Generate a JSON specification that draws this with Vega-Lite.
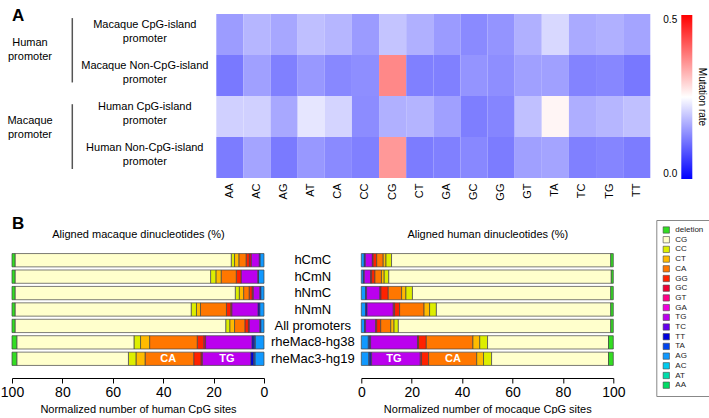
{
  "$schema": "https://vega.github.io/schema/vega-lite/v6.json",
  "padding": {"top": 7, "left": 0, "right": 0, "bottom": 0},
  "config": {"font": "Liberation Sans", "view": {"stroke": null}, "axis": {"labelColor": "#000", "titleColor": "#000", "labelFont": "Liberation Sans", "titleFont": "Liberation Sans"}, "legend": {"labelFont": "Liberation Sans", "titleFont": "Liberation Sans"}, "title": {"font": "Liberation Sans", "color": "#000"}},
  "datasets": {
    "grp": [
      {"g": "Human|promoter", "a": 0.1, "b": 1.67, "m": 0.7},
      {"g": "Macaque|promoter", "a": 2.2, "b": 3.78, "m": 2.6}
    ],
    "heat": [
      {"r": "Macaque CpG-island|promoter", "d": "AA", "v": 0.153}, {"r": "Macaque CpG-island|promoter", "d": "AC", "v": 0.178}, {"r": "Macaque CpG-island|promoter", "d": "AG", "v": 0.164}, {"r": "Macaque CpG-island|promoter", "d": "AT", "v": 0.187},
      {"r": "Macaque CpG-island|promoter", "d": "CA", "v": 0.178}, {"r": "Macaque CpG-island|promoter", "d": "CC", "v": 0.152}, {"r": "Macaque CpG-island|promoter", "d": "CG", "v": 0.192}, {"r": "Macaque CpG-island|promoter", "d": "CT", "v": 0.173},
      {"r": "Macaque CpG-island|promoter", "d": "GA", "v": 0.152}, {"r": "Macaque CpG-island|promoter", "d": "GC", "v": 0.135}, {"r": "Macaque CpG-island|promoter", "d": "GG", "v": 0.145}, {"r": "Macaque CpG-island|promoter", "d": "GT", "v": 0.173},
      {"r": "Macaque CpG-island|promoter", "d": "TA", "v": 0.212}, {"r": "Macaque CpG-island|promoter", "d": "TC", "v": 0.167}, {"r": "Macaque CpG-island|promoter", "d": "TG", "v": 0.173}, {"r": "Macaque CpG-island|promoter", "d": "TT", "v": 0.161},
      {"r": "Macaque Non-CpG-island|promoter", "d": "AA", "v": 0.119}, {"r": "Macaque Non-CpG-island|promoter", "d": "AC", "v": 0.157}, {"r": "Macaque Non-CpG-island|promoter", "d": "AG", "v": 0.125}, {"r": "Macaque Non-CpG-island|promoter", "d": "AT", "v": 0.149},
      {"r": "Macaque Non-CpG-island|promoter", "d": "CA", "v": 0.133}, {"r": "Macaque Non-CpG-island|promoter", "d": "CC", "v": 0.139}, {"r": "Macaque Non-CpG-island|promoter", "d": "CG", "v": 0.367}, {"r": "Macaque Non-CpG-island|promoter", "d": "CT", "v": 0.125},
      {"r": "Macaque Non-CpG-island|promoter", "d": "GA", "v": 0.125}, {"r": "Macaque Non-CpG-island|promoter", "d": "GC", "v": 0.145}, {"r": "Macaque Non-CpG-island|promoter", "d": "GG", "v": 0.139}, {"r": "Macaque Non-CpG-island|promoter", "d": "GT", "v": 0.157},
      {"r": "Macaque Non-CpG-island|promoter", "d": "TA", "v": 0.157}, {"r": "Macaque Non-CpG-island|promoter", "d": "TC", "v": 0.128}, {"r": "Macaque Non-CpG-island|promoter", "d": "TG", "v": 0.132}, {"r": "Macaque Non-CpG-island|promoter", "d": "TT", "v": 0.118},
      {"r": "Human CpG-island|promoter", "d": "AA", "v": 0.204}, {"r": "Human CpG-island|promoter", "d": "AC", "v": 0.204}, {"r": "Human CpG-island|promoter", "d": "AG", "v": 0.165}, {"r": "Human CpG-island|promoter", "d": "AT", "v": 0.225},
      {"r": "Human CpG-island|promoter", "d": "CA", "v": 0.208}, {"r": "Human CpG-island|promoter", "d": "CC", "v": 0.137}, {"r": "Human CpG-island|promoter", "d": "CG", "v": 0.173}, {"r": "Human CpG-island|promoter", "d": "CT", "v": 0.176},
      {"r": "Human CpG-island|promoter", "d": "GA", "v": 0.157}, {"r": "Human CpG-island|promoter", "d": "GC", "v": 0.124}, {"r": "Human CpG-island|promoter", "d": "GG", "v": 0.13}, {"r": "Human CpG-island|promoter", "d": "GT", "v": 0.188},
      {"r": "Human CpG-island|promoter", "d": "TA", "v": 0.26}, {"r": "Human CpG-island|promoter", "d": "TC", "v": 0.171}, {"r": "Human CpG-island|promoter", "d": "TG", "v": 0.178}, {"r": "Human CpG-island|promoter", "d": "TT", "v": 0.188},
      {"r": "Human Non-CpG-island|promoter", "d": "AA", "v": 0.122}, {"r": "Human Non-CpG-island|promoter", "d": "AC", "v": 0.161}, {"r": "Human Non-CpG-island|promoter", "d": "AG", "v": 0.12}, {"r": "Human Non-CpG-island|promoter", "d": "AT", "v": 0.149},
      {"r": "Human Non-CpG-island|promoter", "d": "CA", "v": 0.135}, {"r": "Human Non-CpG-island|promoter", "d": "CC", "v": 0.125}, {"r": "Human Non-CpG-island|promoter", "d": "CG", "v": 0.351}, {"r": "Human Non-CpG-island|promoter", "d": "CT", "v": 0.122},
      {"r": "Human Non-CpG-island|promoter", "d": "GA", "v": 0.125}, {"r": "Human Non-CpG-island|promoter", "d": "GC", "v": 0.133}, {"r": "Human Non-CpG-island|promoter", "d": "GG", "v": 0.122}, {"r": "Human Non-CpG-island|promoter", "d": "GT", "v": 0.157},
      {"r": "Human Non-CpG-island|promoter", "d": "TA", "v": 0.161}, {"r": "Human Non-CpG-island|promoter", "d": "TC", "v": 0.125}, {"r": "Human Non-CpG-island|promoter", "d": "TG", "v": 0.13}, {"r": "Human Non-CpG-island|promoter", "d": "TT", "v": 0.122}
    ],
    "left": [
      {"row": "hCmC", "d": "AG", "v": 1.6}, {"row": "hCmC", "d": "TT", "v": 0.3}, {"row": "hCmC", "d": "TG", "v": 3.2}, {"row": "hCmC", "d": "GC", "v": 0.7}, {"row": "hCmC", "d": "GG", "v": 1.3}, {"row": "hCmC", "d": "CA", "v": 2.9}, {"row": "hCmC", "d": "CT", "v": 1.7}, {"row": "hCmC", "d": "CC", "v": 1.3}, {"row": "hCmC", "d": "CG", "v": 85.8}, {"row": "hCmC", "d": "deletion", "v": 1.2},
      {"row": "hCmN", "d": "AG", "v": 2.2}, {"row": "hCmN", "d": "TT", "v": 0.3}, {"row": "hCmN", "d": "TG", "v": 6.6}, {"row": "hCmN", "d": "GG", "v": 1.9}, {"row": "hCmN", "d": "CA", "v": 6.0}, {"row": "hCmN", "d": "CT", "v": 2.1}, {"row": "hCmN", "d": "CC", "v": 2.1}, {"row": "hCmN", "d": "CG", "v": 77.6}, {"row": "hCmN", "d": "deletion", "v": 1.2},
      {"row": "hNmC", "d": "AG", "v": 1.3}, {"row": "hNmC", "d": "TT", "v": 0.4}, {"row": "hNmC", "d": "TG", "v": 2.6}, {"row": "hNmC", "d": "GC", "v": 0.4}, {"row": "hNmC", "d": "GG", "v": 1.2}, {"row": "hNmC", "d": "CA", "v": 2.2}, {"row": "hNmC", "d": "CT", "v": 1.7}, {"row": "hNmC", "d": "CC", "v": 1.6}, {"row": "hNmC", "d": "CG", "v": 87.4}, {"row": "hNmC", "d": "deletion", "v": 1.2},
      {"row": "hNmN", "d": "AG", "v": 1.7}, {"row": "hNmN", "d": "TT", "v": 0.7}, {"row": "hNmN", "d": "TG", "v": 10.4}, {"row": "hNmN", "d": "GC", "v": 0.4}, {"row": "hNmN", "d": "GG", "v": 1.7}, {"row": "hNmN", "d": "CA", "v": 10.3}, {"row": "hNmN", "d": "CT", "v": 1.6}, {"row": "hNmN", "d": "CC", "v": 2.1}, {"row": "hNmN", "d": "CG", "v": 69.9}, {"row": "hNmN", "d": "deletion", "v": 1.2},
      {"row": "All promoters", "d": "AG", "v": 1.3}, {"row": "All promoters", "d": "TT", "v": 0.4}, {"row": "All promoters", "d": "TG", "v": 4.2}, {"row": "All promoters", "d": "GC", "v": 0.3}, {"row": "All promoters", "d": "GG", "v": 1.4}, {"row": "All promoters", "d": "CA", "v": 4.1}, {"row": "All promoters", "d": "CT", "v": 1.9}, {"row": "All promoters", "d": "CC", "v": 1.6}, {"row": "All promoters", "d": "CG", "v": 83.6}, {"row": "All promoters", "d": "deletion", "v": 1.2},
      {"row": "rheMac8-hg38", "d": "AG", "v": 3.5}, {"row": "rheMac8-hg38", "d": "TA", "v": 0.5}, {"row": "rheMac8-hg38", "d": "TT", "v": 0.8}, {"row": "rheMac8-hg38", "d": "TG", "v": 18.4}, {"row": "rheMac8-hg38", "d": "GC", "v": 0.7}, {"row": "rheMac8-hg38", "d": "GG", "v": 2.6}, {"row": "rheMac8-hg38", "d": "CA", "v": 18.9}, {"row": "rheMac8-hg38", "d": "CT", "v": 3.6}, {"row": "rheMac8-hg38", "d": "CC", "v": 2.6}, {"row": "rheMac8-hg38", "d": "CG", "v": 46.5}, {"row": "rheMac8-hg38", "d": "deletion", "v": 1.9},
      {"row": "rheMac3-hg19", "d": "AG", "v": 3.6}, {"row": "rheMac3-hg19", "d": "TA", "v": 0.5}, {"row": "rheMac3-hg19", "d": "TT", "v": 1.2}, {"row": "rheMac3-hg19", "d": "TG", "v": 19.2}, {"row": "rheMac3-hg19", "d": "GC", "v": 0.5}, {"row": "rheMac3-hg19", "d": "GG", "v": 2.9}, {"row": "rheMac3-hg19", "d": "CA", "v": 19.3}, {"row": "rheMac3-hg19", "d": "CT", "v": 3.6}, {"row": "rheMac3-hg19", "d": "CC", "v": 3.0}, {"row": "rheMac3-hg19", "d": "CG", "v": 44.3}, {"row": "rheMac3-hg19", "d": "deletion", "v": 1.9}
    ],
    "right": [
      {"row": "hCmC", "d": "AG", "v": 1.2}, {"row": "hCmC", "d": "TT", "v": 0.4}, {"row": "hCmC", "d": "TG", "v": 2.8}, {"row": "hCmC", "d": "GC", "v": 0.3}, {"row": "hCmC", "d": "GG", "v": 1.4}, {"row": "hCmC", "d": "CA", "v": 2.6}, {"row": "hCmC", "d": "CT", "v": 1.1}, {"row": "hCmC", "d": "CC", "v": 2.2}, {"row": "hCmC", "d": "CG", "v": 87.0}, {"row": "hCmC", "d": "deletion", "v": 1.0},
      {"row": "hCmN", "d": "AG", "v": 0.8}, {"row": "hCmN", "d": "TT", "v": 0.4}, {"row": "hCmN", "d": "TG", "v": 2.5}, {"row": "hCmN", "d": "GC", "v": 0.4}, {"row": "hCmN", "d": "GG", "v": 1.3}, {"row": "hCmN", "d": "CA", "v": 2.6}, {"row": "hCmN", "d": "CT", "v": 1.1}, {"row": "hCmN", "d": "CC", "v": 1.8}, {"row": "hCmN", "d": "CG", "v": 88.3}, {"row": "hCmN", "d": "deletion", "v": 0.8},
      {"row": "hNmC", "d": "AG", "v": 1.7}, {"row": "hNmC", "d": "TT", "v": 0.4}, {"row": "hNmC", "d": "TG", "v": 5.3}, {"row": "hNmC", "d": "GC", "v": 0.4}, {"row": "hNmC", "d": "GG", "v": 2.9}, {"row": "hNmC", "d": "CA", "v": 5.3}, {"row": "hNmC", "d": "CT", "v": 1.7}, {"row": "hNmC", "d": "CC", "v": 2.6}, {"row": "hNmC", "d": "CG", "v": 78.7}, {"row": "hNmC", "d": "deletion", "v": 1.0},
      {"row": "hNmN", "d": "AG", "v": 1.7}, {"row": "hNmN", "d": "TT", "v": 0.6}, {"row": "hNmN", "d": "TG", "v": 10.4}, {"row": "hNmN", "d": "GC", "v": 0.5}, {"row": "hNmN", "d": "GG", "v": 2.0}, {"row": "hNmN", "d": "CA", "v": 9.7}, {"row": "hNmN", "d": "CT", "v": 2.2}, {"row": "hNmN", "d": "CC", "v": 2.7}, {"row": "hNmN", "d": "CG", "v": 69.2}, {"row": "hNmN", "d": "deletion", "v": 1.0},
      {"row": "All promoters", "d": "AG", "v": 1.3}, {"row": "All promoters", "d": "TT", "v": 0.4}, {"row": "All promoters", "d": "TG", "v": 4.0}, {"row": "All promoters", "d": "GC", "v": 0.4}, {"row": "All promoters", "d": "GG", "v": 1.6}, {"row": "All promoters", "d": "CA", "v": 4.0}, {"row": "All promoters", "d": "CT", "v": 1.3}, {"row": "All promoters", "d": "CC", "v": 1.7}, {"row": "All promoters", "d": "CG", "v": 84.3}, {"row": "All promoters", "d": "deletion", "v": 1.0},
      {"row": "rheMac8-hg38", "d": "AG", "v": 2.8}, {"row": "rheMac8-hg38", "d": "TA", "v": 0.5}, {"row": "rheMac8-hg38", "d": "TT", "v": 0.4}, {"row": "rheMac8-hg38", "d": "TG", "v": 18.6}, {"row": "rheMac8-hg38", "d": "GC", "v": 0.4}, {"row": "rheMac8-hg38", "d": "GG", "v": 3.1}, {"row": "rheMac8-hg38", "d": "CA", "v": 18.5}, {"row": "rheMac8-hg38", "d": "CT", "v": 2.7}, {"row": "rheMac8-hg38", "d": "CC", "v": 3.1}, {"row": "rheMac8-hg38", "d": "CG", "v": 48.0}, {"row": "rheMac8-hg38", "d": "deletion", "v": 1.9},
      {"row": "rheMac3-hg19", "d": "AG", "v": 3.0}, {"row": "rheMac3-hg19", "d": "TA", "v": 0.5}, {"row": "rheMac3-hg19", "d": "TT", "v": 0.6}, {"row": "rheMac3-hg19", "d": "TG", "v": 19.3}, {"row": "rheMac3-hg19", "d": "GC", "v": 0.5}, {"row": "rheMac3-hg19", "d": "GG", "v": 2.8}, {"row": "rheMac3-hg19", "d": "CA", "v": 19.1}, {"row": "rheMac3-hg19", "d": "CT", "v": 2.7}, {"row": "rheMac3-hg19", "d": "CC", "v": 3.2}, {"row": "rheMac3-hg19", "d": "CG", "v": 46.4}, {"row": "rheMac3-hg19", "d": "deletion", "v": 1.9}
    ],
    "labL": [{"row": "rheMac3-hg19", "lab": "CA", "at": 38.0}, {"row": "rheMac3-hg19", "lab": "TG", "at": 14.7}],
    "labR": [{"row": "rheMac3-hg19", "lab": "TG", "at": 12.9}, {"row": "rheMac3-hg19", "lab": "CA", "at": 36.4}]
  },
  "bounds": "flush",
  "spacing": 238,
  "resolve": {"scale": {"color": "independent", "fill": "independent"}},
  "vconcat": [
    {
      "bounds": "flush",
      "spacing": 104.3,
      "resolve": {"scale": {"fill": "independent"}},
      "title": {"text": "A", "anchor": "start", "frame": "group", "fontSize": 17, "fontWeight": "bold", "baseline": "alphabetic", "offset": -14, "dy": 10},
      "hconcat": [
        {
          "width": 100,
          "height": 164,
          "layer": [
            {
              "data": {"name": "grp"},
              "mark": {"type": "text", "lineBreak": "|", "fontSize": 11, "lineHeight": 14, "align": "center", "baseline": "middle", "color": "#000"},
              "encoding": {
                "x": {"datum": 0.18, "type": "quantitative", "scale": {"domain": [0, 1]}, "axis": null},
                "y": {"field": "m", "type": "quantitative", "scale": {"domain": [0, 4], "reverse": true}, "axis": null},
                "text": {"field": "g"}
              }
            },
            {
              "data": {"name": "grp"},
              "mark": {"type": "rule", "color": "#555", "strokeWidth": 1.5},
              "encoding": {
                "x": {"datum": 0.603, "type": "quantitative"},
                "y": {"field": "a", "type": "quantitative"},
                "y2": {"field": "b"}
              }
            }
          ]
        },
        {
          "data": {"name": "heat"},
          "width": 434,
          "height": 164,
          "mark": {"type": "rect", "strokeWidth": 0},
          "encoding": {
            "x": {"field": "d", "type": "nominal", "sort": ["AA","AC","AG","AT","CA","CC","CG","CT","GA","GC","GG","GT","TA","TC","TG","TT"], "scale": {"paddingInner": 0, "paddingOuter": 0},
              "axis": {"title": null, "labelAngle": 270, "labelFontSize": 11, "ticks": false, "domain": false, "labelPadding": 5}},
            "y": {"field": "r", "type": "nominal", "sort": ["Macaque CpG-island|promoter", "Macaque Non-CpG-island|promoter", "Human CpG-island|promoter", "Human Non-CpG-island|promoter"], "scale": {"paddingInner": 0, "paddingOuter": 0},
              "axis": {"title": null, "ticks": false, "domain": false, "labelAlign": "center", "labelPadding": 72, "labelOffset": -10, "labelExpr": "split(datum.label, '|')", "labelFontSize": 11, "labelLineHeight": 14, "labelLimit": 0}},
            "fill": {"field": "v", "type": "quantitative",
              "scale": {"domain": [0, 0.25, 0.5], "range": ["#0000ff", "#ffffff", "#ff0000"], "interpolate": "rgb"},
              "legend": {"orient": "none", "legendX": 465, "legendY": 1, "direction": "vertical", "title": "Mutation rate", "titleOrient": "right", "titleAngle": 90, "titleAnchor": "middle", "titleFontSize": 10, "titleFontWeight": "normal", "titlePadding": 5,
                "gradientLength": 164, "gradientThickness": 11, "gradientStrokeWidth": 0, "values": [0, 0.5], "format": ".1f", "labelOffset": -29, "labelFontSize": 10, "padding": 0}}
          }
        }
      ]
    },
    {
      "bounds": "flush",
      "spacing": 97.3,
      "resolve": {"scale": {"color": "independent"}},
      "hconcat": [
        {
          "width": 252,
          "height": 115,
          "title": {"text": "B", "anchor": "start", "frame": "group", "fontSize": 17, "fontWeight": "bold", "baseline": "alphabetic", "offset": -4, "dy": 14},
          "resolve": {"axis": {"x": "independent"}},
          "layer": [
            {
              "data": {"name": "left"},
              "transform": [{"calculate": "indexof(['deletion','CG','CC','CT','CA','GG','GC','GT','GA','TG','TC','TT','TA','AG','AC','AT','AA'], datum.d)", "as": "k"}],
              "mark": {"type": "bar", "stroke": "#444", "strokeWidth": 0.7},
              "encoding": {
                "y": {"field": "row", "type": "nominal", "sort": ["hCmC","hCmN","hNmC","hNmN","All promoters","rheMac8-hg38","rheMac3-hg19"], "scale": {"paddingInner": 0.19, "paddingOuter": 0.095}, "axis": null},
                "x": {"field": "v", "type": "quantitative", "stack": "zero", "scale": {"domain": [0, 100], "reverse": true, "nice": false},
                  "axis": {"values": [0, 20, 40, 60, 80, 100], "labelFlush": false, "title": "Normalized  number of human CpG sites", "offset": 11, "tickSize": 5, "labelFontSize": 14, "titleFontSize": 11, "titleFontWeight": "normal", "titlePadding": 4, "grid": false, "domainColor": "#000", "tickColor": "#000"}},
                "color": {"field": "d", "type": "nominal",
                  "scale": {"domain": ["deletion","CG","CC","CT","CA","GG","GC","GT","GA","TG","TC","TT","TA","AG","AC","AT","AA"],
                    "range": ["#33dd22","#ffffcc","#ddee00","#ffbb00","#ff7700","#ff2200","#ee0033","#ff0088","#ee00dd","#bb00ee","#6600ee","#0000dd","#0044ee","#1199ff","#00ccee","#00ddaa","#00dd66"]},
                  "legend": null},
                "order": {"field": "k", "type": "quantitative", "sort": "descending"}
              }
            },
            {
              "data": {"name": "labL"},
              "mark": {"type": "text", "fontWeight": "bold", "fontSize": 11, "color": "white"},
              "encoding": {
                "y": {"field": "row", "type": "nominal", "sort": ["hCmC","hCmN","hNmC","hNmN","All promoters","rheMac8-hg38","rheMac3-hg19"]},
                "x": {"field": "at", "type": "quantitative", "axis": {"orient": "top", "labels": false, "ticks": false, "domain": false, "grid": false, "title": "Aligned  macaque dinucleotides (%)", "titleFontSize": 11, "titleFontWeight": "normal", "titlePadding": 13}},
                "text": {"field": "lab"}
              }
            }
          ]
        },
        {
          "width": 252,
          "height": 115,
          "resolve": {"axis": {"x": "independent"}},
          "layer": [
            {
              "data": {"name": "right"},
              "transform": [{"calculate": "indexof(['deletion','CG','CC','CT','CA','GG','GC','GT','GA','TG','TC','TT','TA','AG','AC','AT','AA'], datum.d)", "as": "k"}],
              "mark": {"type": "bar", "stroke": "#444", "strokeWidth": 0.7},
              "encoding": {
                "y": {"field": "row", "type": "nominal", "sort": ["hCmC","hCmN","hNmC","hNmN","All promoters","rheMac8-hg38","rheMac3-hg19"], "scale": {"paddingInner": 0.19, "paddingOuter": 0.095},
                  "axis": {"title": null, "ticks": false, "domain": false, "labelAlign": "center", "labelPadding": 49, "labelFontSize": 13, "labelLimit": 0}},
                "x": {"field": "v", "type": "quantitative", "stack": "zero", "scale": {"domain": [0, 100], "nice": false},
                  "axis": {"values": [0, 20, 40, 60, 80, 100], "labelFlush": false, "title": "Normalized  number of  mocaque CpG sites", "offset": 11, "tickSize": 5, "labelFontSize": 14, "titleFontSize": 11, "titleFontWeight": "normal", "titlePadding": 4, "grid": false, "domainColor": "#000", "tickColor": "#000"}},
                "color": {"field": "d", "type": "nominal",
                  "scale": {"domain": ["deletion","CG","CC","CT","CA","GG","GC","GT","GA","TG","TC","TT","TA","AG","AC","AT","AA"],
                    "range": ["#33dd22","#ffffcc","#ddee00","#ffbb00","#ff7700","#ff2200","#ee0033","#ff0088","#ee00dd","#bb00ee","#6600ee","#0000dd","#0044ee","#1199ff","#00ccee","#00ddaa","#00dd66"]},
                  "legend": {"orient": "none", "legendX": 295, "legendY": -32, "title": null, "symbolType": "square", "symbolSize": 40, "symbolStrokeColor": "#444", "symbolStrokeWidth": 0.6, "symbolOpacity": 1,
                    "labelFontSize": 8, "labelOffset": 5, "rowPadding": -0.3, "padding": 6, "strokeColor": "#888", "labelColor": "#222"}},
                "order": {"field": "k", "type": "quantitative", "sort": "descending"}
              }
            },
            {
              "data": {"name": "labR"},
              "mark": {"type": "text", "fontWeight": "bold", "fontSize": 11, "color": "white"},
              "encoding": {
                "y": {"field": "row", "type": "nominal", "sort": ["hCmC","hCmN","hNmC","hNmN","All promoters","rheMac8-hg38","rheMac3-hg19"]},
                "x": {"field": "at", "type": "quantitative", "axis": {"orient": "top", "labels": false, "ticks": false, "domain": false, "grid": false, "title": "Aligned  human dinucleotides (%)", "titleFontSize": 11, "titleFontWeight": "normal", "titlePadding": 13}},
                "text": {"field": "lab"}
              }
            }
          ]
        }
      ]
    }
  ]
}
